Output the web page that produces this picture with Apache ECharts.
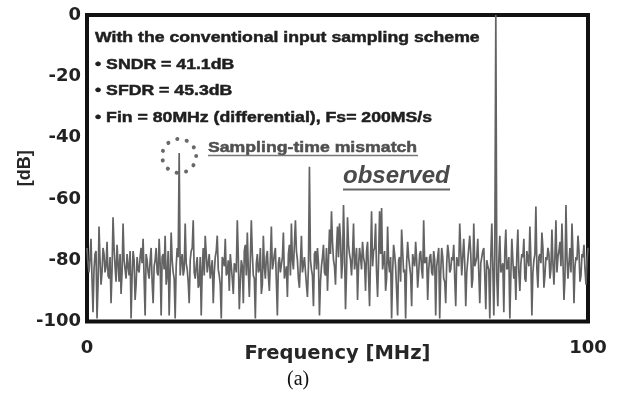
<!DOCTYPE html>
<html>
<head>
<meta charset="utf-8">
<script src="https://cdn.jsdelivr.net/npm/echarts@6/dist/echarts.min.js"></script>
<style>
  html, body { margin: 0; padding: 0; background: #fff; }
  #chart { width: 617px; height: 396px; }
</style>
</head>
<body>
<div id="chart"></div>
<script>
// Output spectrum of the ADC, one value per FFT bin (dB), 0 .. 100 MHz
const binStepMHz = 0.2;
const spectrumDb = [
  -76,-81,-84,-79,-73,-86,-97,-83,-78,-77,-99,-88,-69,-80,-88,-84,-76,-78,-84,-82,
  -74,-85,-86,-79,-94,-83,-66,-76,-82,-87,-75,-81,-87,-78,-91,-84,-68,-80,-83,-86,
  -78,-82,-85,-77,-99,-85,-77,-80,-93,-88,-79,-83,-84,-79,-76,-81,-73,-86,-98,-78,
  -80,-84,-86,-80,-76,-87,-94,-82,-80,-76,-84,-85,-73,-81,-98,-79,-78,-83,-72,-88,
  -85,-77,-98,-84,-71,-80,-84,-86,-99,-82,-76,-79,-45,-85,-80,-78,-85,-83,-68,-81,
  -83,-87,-94,-80,-77,-76,-67,-84,-86,-82,-79,-89,-88,-79,-98,-83,-76,-85,-72,-78,
  -84,-81,-78,-86,-86,-80,-94,-84,-79,-77,-72,-83,-85,-88,-99,-79,-80,-82,-73,-85,
  -84,-80,-90,-78,-78,-86,-91,-81,-82,-84,-67,-79,-96,-87,-80,-82,-94,-77,-75,-85,
  -71,-83,-92,-80,-67,-78,-85,-86,-99,-81,-78,-84,-83,-76,-91,-88,-72,-82,-86,-79,
  -77,-85,-90,-80,-69,-83,-81,-78,-76,-87,-98,-81,-79,-84,-84,-79,-71,-86,-86,-82,
  -92,-78,-75,-85,-68,-80,-83,-83,-67,-77,-80,-86,-89,-81,-72,-84,-84,-79,-79,-88,
  -92,-82,-49.5,-80,-83,-85,-95,-78,-77,-83,-76,-81,-98,-87,-82,-79,-75,-84,-85,-76,
  -90,-80,-70,-78,-64,-74,-80,-82,-88,-76,-69,-79,-68,-73,-86,-81,-62,-77,-96,-84,
  -66,-75,-78,-80,-85,-78,-68,-83,-80,-76,-93,-82,-76,-79,-83,-74,-79,-81,-90,-77,
  -74,-85,-95,-79,-64,-82,-77,-76,-68,-84,-92,-80,-64,-78,-63,-83,-80,-77,-90,-86,
  -69,-81,-84,-79,-99,-84,-75,-78,-82,-82,-98,-80,-79,-87,-70,-77,-84,-83,-99,-81,
  -74,-79,-82,-85,-95,-78,-80,-82,-74,-80,-89,-84,-78,-77,-83,-86,-67,-81,-81,-79,
  -93,-83,-79,-78,-84,-85,-77,-80,-98,-82,-82,-76,-99,-84,-76,-79,-86,-87,-94,-81,
  -75,-78,-84,-83,-79,-80,-75,-86,-95,-79,-81,-82,-68,-77,-85,-85,-73,-81,-95,-84,
  -80,-80,-72,-78,-89,-86,-68,-82,-82,-79,-73,-84,-94,-81,-79,-77,-76,-85,-96,-80,
  -82,-83,-99,-79,-68,-82,-98,-78,0,-86,-95,-80,-72,-84,-84,-81,-97,-77,-70,-83,
  -82,-79,-99,-85,-73,-80,-86,-82,-93,-78,-70,-84,-90,-81,-78,-79,-73,-86,-87,-77,
  -77,-82,-69,-80,-98,-84,-80,-78,-62.5,-83,-89,-79,-78,-81,-71,-76,-89,-85,-79,-80,
  -76,-78,-86,-83,-70,-81,-88,-79,-67,-84,-79,-77,-74,-82,-68,-80,-93,-86,-62,-79,
  -86,-81,-76,-84,-68,-78,-94,-82,-79,-80,-72,-77,-87,-85,-78,-79,-75,-83,-88,-80,
  -76
];

// The highlighted spur
const spurFreqMHz = 18.4;
const spurMarkDb = -46;

const yTicks = [0, -20, -40, -60, -80, -100];
const xTicks = [0, 100];

const infoLines = [
  'With the conventional input sampling scheme',
  '\u2022 SNDR = 41.1dB',
  '\u2022 SFDR = 45.3dB',
  '\u2022 Fin = 80MHz (differential), Fs= 200MS/s'
];

const boldSans = '"DejaVu Sans", sans-serif';
const arial = '"Liberation Sans", Arial, sans-serif';

const lineData = spectrumDb.map((v, i) => [+(i * binStepMHz).toFixed(1), v]);

const chart = echarts.init(document.getElementById('chart'), null, { renderer: 'canvas' });

// Annotation text, slightly widened like the rest of the figure
function wideText(str, x, yMid, font, fill, stroke) {
  return {
    type: 'text',
    x: x, y: yMid,
    scaleX: 1.14,
    silent: true,
    style: {
      text: str, fill: fill, font: font,
      stroke: stroke || fill, lineWidth: 0.5,
      verticalAlign: 'middle', align: 'left'
    }
  };
}

const infoY = [37.5, 64.5, 91, 117.5];
const infoGraphics = infoLines.map((t, i) =>
  wideText(t, 95, infoY[i], 'bold 15.5px ' + arial, '#1f1f1f'));

chart.setOption({
  animation: false,
  backgroundColor: '#fff',
  grid: {
    left: 87, right: 29, top: 15, bottom: 74.5,
    show: true,
    borderColor: '#111',
    borderWidth: 4,
    backgroundColor: 'transparent'
  },
  xAxis: {
    type: 'value',
    min: 0, max: 100, interval: 100,
    name: 'Frequency [MHz]',
    nameLocation: 'middle',
    nameGap: 22,
    nameMoveOverlap: false,
    nameTextStyle: { fontFamily: boldSans, fontWeight: 'bold', fontSize: 19.5, color: '#262626' },
    axisLine: { show: false },
    axisTick: { show: false },
    splitLine: { show: false },
    axisLabel: {
      margin: 18,
      fontFamily: boldSans, fontWeight: 'bold', fontSize: 18, color: '#222',
      customValues: xTicks
    }
  },
  yAxis: {
    type: 'value',
    min: -100, max: 0, interval: 20,
    name: '[dB]',
    nameLocation: 'middle',
    nameRotate: 90,
    nameGap: 53,
    nameMoveOverlap: false,
    nameTextStyle: { fontFamily: arial, fontWeight: 'bold', fontSize: 18, color: '#262626' },
    axisLine: { show: false },
    axisTick: { show: false },
    splitLine: { show: false },
    axisLabel: {
      margin: 6,
      fontFamily: boldSans, fontWeight: 'bold', fontSize: 18, color: '#222',
      customValues: yTicks
    }
  },
  series: [
    {
      type: 'line',
      data: lineData,
      symbol: 'none',
      silent: true,
      lineStyle: { color: '#636363', width: 1.7 },
      z: 2
    },
    {
      type: 'scatter',
      data: [[spurFreqMHz, spurMarkDb]],
      symbol: 'circle',
      symbolSize: 34,
      silent: true,
      itemStyle: {
        color: 'rgba(0,0,0,0)',
        borderColor: '#444',
        borderWidth: 4,
        borderType: [0.1, 9.6],
        borderCap: 'round'
      },
      z: 3
    }
  ],
  graphic: infoGraphics.concat([
    wideText('Sampling-time mismatch', 208, 147.5, 'bold 15.5px ' + arial, '#505050'),
    {
      type: 'line', silent: true,
      shape: { x1: 208, y1: 155.5, x2: 418, y2: 155.5 },
      style: { stroke: '#777', lineWidth: 1.5 }
    },
    {
      type: 'text', left: 343, top: 164, silent: true,
      style: { text: 'observed', fill: '#4a4a4a', font: 'italic bold 24px ' + arial }
    },
    {
      type: 'line', silent: true,
      shape: { x1: 343, y1: 189.5, x2: 450, y2: 189.5 },
      style: { stroke: '#666', lineWidth: 2 }
    },
    {
      type: 'text', left: 287, top: 370, silent: true,
      style: { text: '(a)', fill: '#111', font: '20px "Liberation Serif", "Times New Roman", serif' }
    }
  ])
});
</script>
</body>
</html>
